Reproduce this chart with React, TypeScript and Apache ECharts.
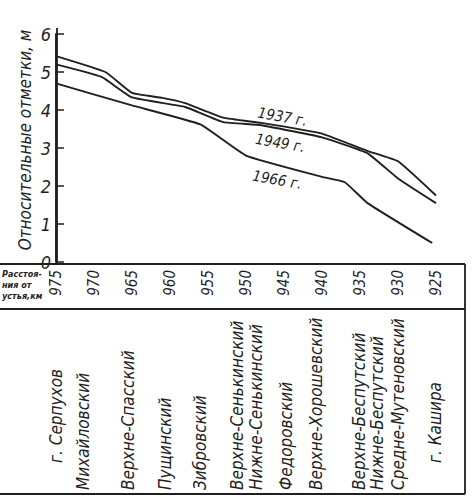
import React, { useEffect, useRef } from "react";
import * as echarts from "echarts";

// Distance from mouth, km (x) and relative water marks, m (y)
const kmMin = 925;
const kmMax = 975;
const yMin = 0;
const yMax = 6;

const km1937 = [975, 968.5, 965, 961, 958, 953, 948, 940, 934, 930, 925];
const val1937 = [5.42, 5.0, 4.45, 4.32, 4.18, 3.8, 3.66, 3.38, 2.92, 2.65, 1.75];

const km1949 = [975, 969, 965, 958, 953, 948, 940, 934, 930, 925];
const val1949 = [5.2, 4.87, 4.33, 4.08, 3.68, 3.6, 3.28, 2.86, 2.2, 1.55];

const km1966 = [975, 965, 956, 950, 940, 937, 934, 925.5];
const val1966 = [4.7, 4.12, 3.62, 2.8, 2.24, 2.1, 1.55, 0.5];

const seriesNames = ["1937 г.", "1949 г.", "1966 г."];
// label anchors in data coordinates [km, m]
const labelKm = [945.2, 945.5, 945.9];
const labelVal = [3.82, 3.13, 2.16];

const stationNames = [
  "г. Серпухов",
  "Михайловский",
  "Верхне-Спасский",
  "Пущинский",
  "Зибровский",
  "Верхне-Сенькинский",
  "Нижне-Сенькинский",
  "Федоровский",
  "Верхне-Хорошевский",
  "Верхне-Беспутский",
  "Нижне-Беспутский",
  "Средне-Мутеновский",
  "г. Кашира",
];
const stationKm = [975, 971.4, 965.5, 960.7, 956.1, 951.2, 948.7, 944.7, 940.8, 935.1, 932.8, 930.0, 925.1];

const yAxisTitle = "Относительные отметки, м";
const headerLines = ["Расстоя-", "ния от", "устья,км"];

const FONT = '"DejaVu Sans Condensed", "Liberation Sans Narrow", "DejaVu Sans", sans-serif';
const INK = "#1f1f1f";

const zip = (a: number[], b: number[]) => a.map((v, i) => [v, b[i]]);

export default function App() {
  const ref = useRef<HTMLDivElement>(null);
  useEffect(() => {
    if (!ref.current) return;
    const chart = echarts.init(ref.current, undefined, { renderer: "svg" });
    const lineStyle = { color: INK, width: 1.9 };
    const mkSeries = (name: string, data: number[][]) => ({
      type: "line",
      name,
      data,
      showSymbol: false,
      symbol: "none",
      smooth: 0.12,
      lineStyle,
      itemStyle: { color: INK },
    });
    chart.setOption({
      animation: false,
      backgroundColor: "#ffffff",
      grid: { left: 56, right: 37, top: 34, bottom: 235, containLabel: false },
      xAxis: {
        type: "value",
        min: kmMin,
        max: kmMax,
        interval: 5,
        inverse: true,
        axisLine: { show: false },
        axisTick: { show: false },
        splitLine: { show: false },
        axisLabel: {
          rotate: 90,
          margin: 8,
          color: INK,
          fontFamily: FONT,
          fontStyle: "italic",
          fontSize: 15,
        },
      },
      yAxis: {
        type: "value",
        min: yMin,
        max: yMax,
        interval: 1,
        axisLine: { show: true, lineStyle: { color: INK, width: 1.9 } },
        axisTick: { show: true, inside: true, length: 8, lineStyle: { color: INK, width: 1.5 } },
        splitLine: { show: false },
        axisLabel: {
          margin: 5,
          color: INK,
          fontFamily: FONT,
          fontStyle: "italic",
          fontSize: 18,
        },
      },
      series: [
        mkSeries(seriesNames[0], zip(km1937, val1937)),
        mkSeries(seriesNames[1], zip(km1949, val1949)),
        mkSeries(seriesNames[2], zip(km1966, val1966)),
      ],
    });

    const g: any[] = [];
    // table frame
    const lineSt = { stroke: INK, lineWidth: 1.8 };
    g.push({ type: "line", shape: { x1: 0, y1: 264, x2: 465, y2: 264 }, style: lineSt });
    g.push({ type: "line", shape: { x1: 0, y1: 309, x2: 465, y2: 309 }, style: lineSt });
    g.push({ type: "line", shape: { x1: 465, y1: 264, x2: 465, y2: 494 }, style: lineSt });
    g.push({ type: "line", shape: { x1: 0, y1: 494, x2: 465, y2: 494 }, style: lineSt });
    g.push({ type: "line", shape: { x1: 57, y1: 28, x2: 57, y2: 264 }, style: lineSt });
    // header
    headerLines.forEach((t, i) => {
      g.push({
        type: "text", x: 2, y: 274 + i * 11,
        style: { text: t, fill: INK, font: `italic bold 9px ${FONT}`, align: "left", verticalAlign: "middle" },
      });
    });
    // y title
    g.push({
      type: "text", x: 25, y: 140, rotation: Math.PI / 2,
      style: { text: yAxisTitle, fill: INK, font: `italic 17px ${FONT}`, align: "center", verticalAlign: "middle" },
    });
    // series labels
    seriesNames.forEach((n, i) => {
      const p = chart.convertToPixel({ gridIndex: 0 }, [labelKm[i], labelVal[i]]) as number[];
      g.push({
        type: "text", x: p[0], y: p[1], rotation: -0.17,
        style: { text: n, fill: INK, font: `italic 15px ${FONT}`, align: "center", verticalAlign: "middle" },
      });
    });
    // stations
    stationNames.forEach((n, i) => {
      const x = chart.convertToPixel({ xAxisIndex: 0 }, stationKm[i]) as number;
      const city = n.startsWith("г.");
      g.push({
        type: "text", x, y: city ? 463 : 490, rotation: Math.PI / 2,
        style: { text: n, fill: INK, font: `italic 17px ${FONT}`, align: "left", verticalAlign: "middle" },
      });
    });
    chart.setOption({ graphic: g });
    return () => chart.dispose();
  }, []);
  return <div ref={ref} style={{ position: "fixed", left: 0, top: 0, width: 473, height: 497 }} />;
}
